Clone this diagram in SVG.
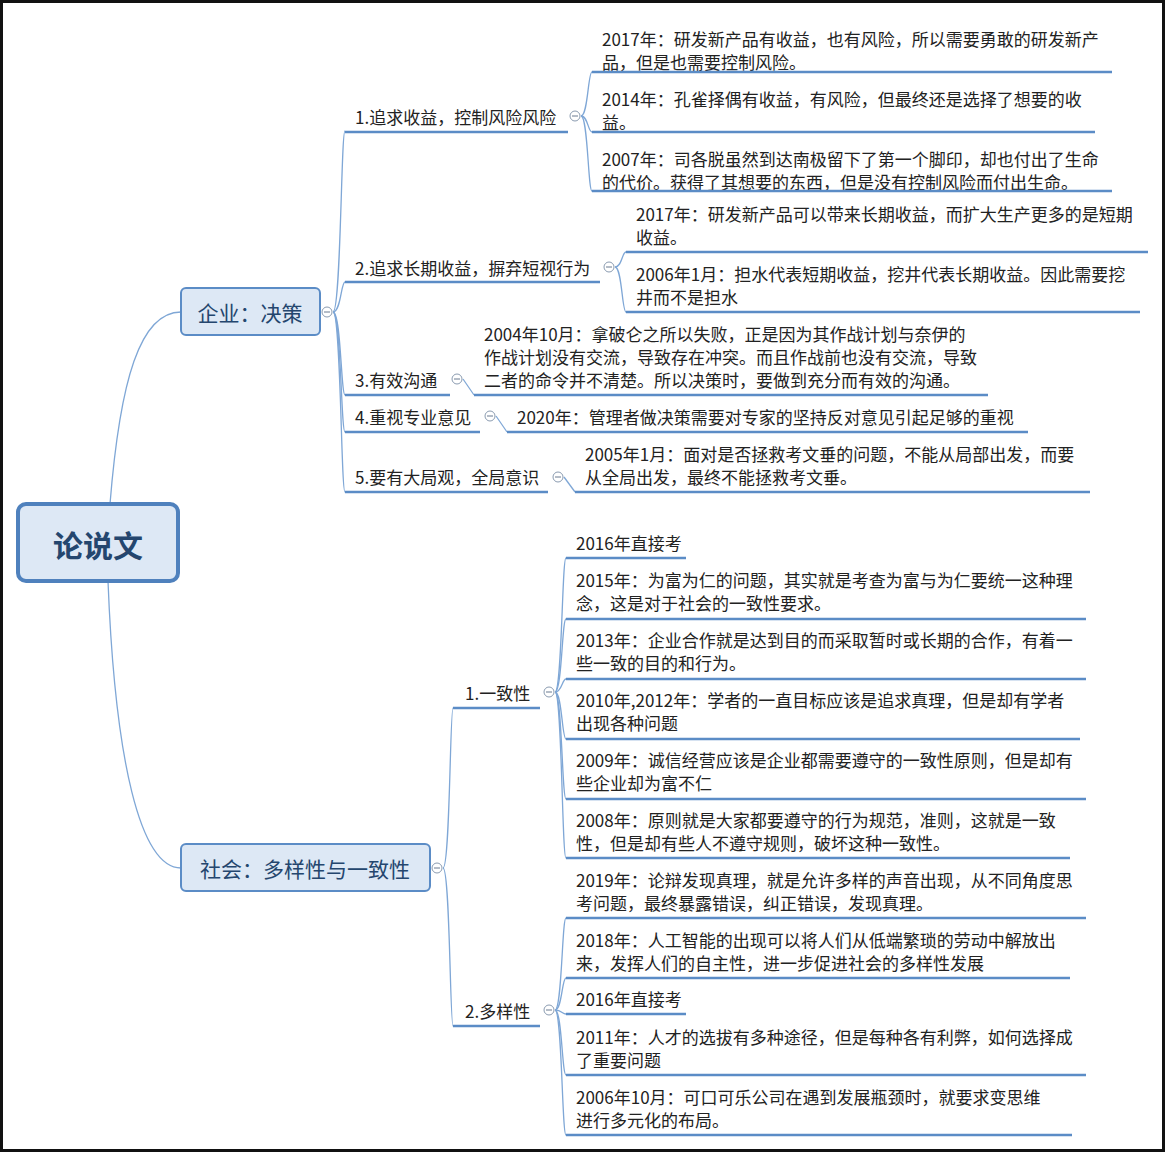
<svg xmlns="http://www.w3.org/2000/svg" width="1165" height="1152" viewBox="0 0 1165 1152">
<style>
.t{font-family:"Noto Sans CJK SC","Microsoft YaHei",sans-serif;font-size:17px;fill:#222;dominant-baseline:central}
.ul{stroke:#5b8cc6;stroke-width:2.5;fill:none}
.c{fill:none;stroke:#7fa7d6;stroke-width:1.3}
.cc{fill:#fff;stroke:#8a9bb0;stroke-width:1}
.m{stroke:#6a7a90;stroke-width:1}
.box{fill:#dde8f5;stroke:#5b8cc6;stroke-width:2}
</style>
<rect x="0" y="0" width="1165" height="1152" fill="#fff"/>
<g id="connectors">
<path class="c" d="M110 504 C120 380 140 312 181 312"/>
<path class="c" d="M108 581 C115 760 140 868 181 868"/>
<path class="c" d="M333 312 C341 312 341 131 345 131"/>
<path class="c" d="M333 312 C341 312 341 282 345 282"/>
<path class="c" d="M333 312 C341 312 341 395 345 395"/>
<path class="c" d="M333 312 C341 312 341 432 345 432"/>
<path class="c" d="M333 312 C341 312 341 492 345 492"/>
<path class="c" d="M581 116 C588 116 588 72 592 72"/>
<path class="c" d="M581 116 C588 116 588 132 592 132"/>
<path class="c" d="M581 116 C588 116 588 191 592 191"/>
<path class="c" d="M615 267 C622 267 622 252 626 252"/>
<path class="c" d="M615 267 C622 267 622 312 626 312"/>
<path class="c" d="M463 379 L474 395"/>
<path class="c" d="M496 416 L507 432"/>
<path class="c" d="M564 477 L575 492"/>
<path class="c" d="M443 868 C450 868 450 708 453 708"/>
<path class="c" d="M443 868 C450 868 450 1026 453 1026"/>
<path class="c" d="M555 692 C562 692 562 558 566 558"/>
<path class="c" d="M555 692 C562 692 562 619 566 619"/>
<path class="c" d="M555 692 C562 692 562 679 566 679"/>
<path class="c" d="M555 692 C562 692 562 739 566 739"/>
<path class="c" d="M555 692 C562 692 562 799 566 799"/>
<path class="c" d="M555 692 C562 692 562 858 566 858"/>
<path class="c" d="M555 1010 C562 1010 562 918 566 918"/>
<path class="c" d="M555 1010 C562 1010 562 978 566 978"/>
<path class="c" d="M555 1010 C562 1010 562 1014 566 1014"/>
<path class="c" d="M555 1010 C562 1010 562 1075 566 1075"/>
<path class="c" d="M555 1010 C562 1010 562 1135 566 1135"/>
</g>
<g id="root">
<rect x="18" y="504" width="160" height="77" rx="8" fill="#dde8f5" stroke="#4f81bd" stroke-width="4"/>
<text x="98" y="544" text-anchor="middle" style="font-family:'Noto Sans CJK SC',sans-serif;font-size:30px;font-weight:bold;fill:#24466e;dominant-baseline:central">论说文</text>
</g>
<g id="b1">
<rect class="box" x="181" y="288" width="139" height="47" rx="5"/>
<text class="t" x="250" y="312" text-anchor="middle" style="font-size:21px;fill:#24466e">企业：决策</text>
<circle class="cc" cx="327" cy="312" r="5"/><line class="m" x1="324" y1="312" x2="330" y2="312"/>
</g>
<g id="b2">
<rect class="box" x="181" y="844" width="249" height="47" rx="5"/>
<text class="t" x="305" y="868" text-anchor="middle" style="font-size:21px;fill:#24466e">社会：多样性与一致性</text>
<circle class="cc" cx="437" cy="868" r="5"/><line class="m" x1="434" y1="868" x2="440" y2="868"/>
</g>
<g id="i1">
<text class="t" x="355" y="116">1.追求收益，控制风险风险</text><line class="ul" x1="345" y1="132" x2="568" y2="132"/>
<circle class="cc" cx="575" cy="116" r="5"/><line class="m" x1="572" y1="116" x2="578" y2="116"/>
</g>
<g id="i1a"><text class="t" x="602" y="38">2017年：研发新产品有收益，也有风险，所以需要勇敢的研发新产</text><text class="t" x="602" y="61">品，但是也需要控制风险。</text><line class="ul" x1="592" y1="72" x2="1112" y2="72"/></g>
<g id="i1b"><text class="t" x="602" y="98">2014年：孔雀择偶有收益，有风险，但最终还是选择了想要的收</text><text class="t" x="602" y="121">益。</text><line class="ul" x1="592" y1="132" x2="1095" y2="132"/></g>
<g id="i1c"><text class="t" x="602" y="158">2007年：司各脱虽然到达南极留下了第一个脚印，却也付出了生命</text><text class="t" x="602" y="181">的代价。获得了其想要的东西，但是没有控制风险而付出生命。</text><line class="ul" x1="592" y1="191" x2="1112" y2="191"/></g>
<g id="i2">
<text class="t" x="355" y="267">2.追求长期收益，摒弃短视行为</text><line class="ul" x1="345" y1="282" x2="600" y2="282"/>
<circle class="cc" cx="609" cy="267" r="5"/><line class="m" x1="606" y1="267" x2="612" y2="267"/>
</g>
<g id="i2a"><text class="t" x="636" y="213">2017年：研发新产品可以带来长期收益，而扩大生产更多的是短期</text><text class="t" x="636" y="236">收益。</text><line class="ul" x1="626" y1="252" x2="1148" y2="252"/></g>
<g id="i2b"><text class="t" x="636" y="273">2006年1月：担水代表短期收益，挖井代表长期收益。因此需要挖</text><text class="t" x="636" y="296">井而不是担水</text><line class="ul" x1="626" y1="312" x2="1140" y2="312"/></g>
<g id="i3">
<text class="t" x="355" y="379">3.有效沟通</text><line class="ul" x1="345" y1="395" x2="450" y2="395"/>
<circle class="cc" cx="457" cy="379" r="5"/><line class="m" x1="454" y1="379" x2="460" y2="379"/>
</g>
<g id="i3a"><text class="t" x="484" y="333">2004年10月：拿破仑之所以失败，正是因为其作战计划与奈伊的</text><text class="t" x="484" y="356">作战计划没有交流，导致存在冲突。而且作战前也没有交流，导致</text><text class="t" x="484" y="379">二者的命令并不清楚。所以决策时，要做到充分而有效的沟通。</text><line class="ul" x1="474" y1="395" x2="988" y2="395"/></g>
<g id="i4">
<text class="t" x="355" y="416">4.重视专业意见</text><line class="ul" x1="345" y1="432" x2="480" y2="432"/>
<circle class="cc" cx="490" cy="416" r="5"/><line class="m" x1="487" y1="416" x2="493" y2="416"/>
</g>
<g id="i4a"><text class="t" x="517" y="416">2020年：管理者做决策需要对专家的坚持反对意见引起足够的重视</text><line class="ul" x1="507" y1="432" x2="1028" y2="432"/></g>
<g id="i5">
<text class="t" x="355" y="476">5.要有大局观，全局意识</text><line class="ul" x1="345" y1="492" x2="548" y2="492"/>
<circle class="cc" cx="558" cy="477" r="5"/><line class="m" x1="555" y1="477" x2="561" y2="477"/>
</g>
<g id="i5a"><text class="t" x="585" y="453">2005年1月：面对是否拯救考文垂的问题，不能从局部出发，而要</text><text class="t" x="585" y="476">从全局出发，最终不能拯救考文垂。</text><line class="ul" x1="575" y1="492" x2="1090" y2="492"/></g>
<g id="j1">
<text class="t" x="465" y="692">1.一致性</text><line class="ul" x1="453" y1="708" x2="540" y2="708"/>
<circle class="cc" cx="549" cy="692" r="5"/><line class="m" x1="546" y1="692" x2="552" y2="692"/>
</g>
<g id="j1a"><text class="t" x="576" y="542">2016年直接考</text><line class="ul" x1="566" y1="558" x2="686" y2="558"/></g>
<g id="j1b"><text class="t" x="576" y="579">2015年：为富为仁的问题，其实就是考查为富与为仁要统一这种理</text><text class="t" x="576" y="602">念，这是对于社会的一致性要求。</text><line class="ul" x1="566" y1="619" x2="1086" y2="619"/></g>
<g id="j1c"><text class="t" x="576" y="639">2013年：企业合作就是达到目的而采取暂时或长期的合作，有着一</text><text class="t" x="576" y="662">些一致的目的和行为。</text><line class="ul" x1="566" y1="679" x2="1086" y2="679"/></g>
<g id="j1d"><text class="t" x="576" y="699">2010年,2012年：学者的一直目标应该是追求真理，但是却有学者</text><text class="t" x="576" y="722">出现各种问题</text><line class="ul" x1="566" y1="739" x2="1080" y2="739"/></g>
<g id="j1e"><text class="t" x="576" y="759">2009年：诚信经营应该是企业都需要遵守的一致性原则，但是却有</text><text class="t" x="576" y="782">些企业却为富不仁</text><line class="ul" x1="566" y1="799" x2="1086" y2="799"/></g>
<g id="j1f"><text class="t" x="576" y="819">2008年：原则就是大家都要遵守的行为规范，准则，这就是一致</text><text class="t" x="576" y="842">性，但是却有些人不遵守规则，破坏这种一致性。</text><line class="ul" x1="566" y1="858" x2="1070" y2="858"/></g>
<g id="j2">
<text class="t" x="465" y="1010">2.多样性</text><line class="ul" x1="453" y1="1026" x2="540" y2="1026"/>
<circle class="cc" cx="549" cy="1010" r="5"/><line class="m" x1="546" y1="1010" x2="552" y2="1010"/>
</g>
<g id="j2a"><text class="t" x="576" y="879">2019年：论辩发现真理，就是允许多样的声音出现，从不同角度思</text><text class="t" x="576" y="902">考问题，最终暴露错误，纠正错误，发现真理。</text><line class="ul" x1="566" y1="918" x2="1086" y2="918"/></g>
<g id="j2b"><text class="t" x="576" y="939">2018年：人工智能的出现可以将人们从低端繁琐的劳动中解放出</text><text class="t" x="576" y="962">来，发挥人们的自主性，进一步促进社会的多样性发展</text><line class="ul" x1="566" y1="978" x2="1070" y2="978"/></g>
<g id="j2c"><text class="t" x="576" y="998">2016年直接考</text><line class="ul" x1="566" y1="1014" x2="686" y2="1014"/></g>
<g id="j2d"><text class="t" x="576" y="1036">2011年：人才的选拔有多种途径，但是每种各有利弊，如何选择成</text><text class="t" x="576" y="1059">了重要问题</text><line class="ul" x1="566" y1="1075" x2="1086" y2="1075"/></g>
<g id="j2e"><text class="t" x="576" y="1096">2006年10月：可口可乐公司在遇到发展瓶颈时，就要求变思维</text><text class="t" x="576" y="1119">进行多元化的布局。</text><line class="ul" x1="566" y1="1135" x2="1072" y2="1135"/></g>
<rect x="1.5" y="1.5" width="1162" height="1149" fill="none" stroke="#111" stroke-width="3"/>
</svg>
